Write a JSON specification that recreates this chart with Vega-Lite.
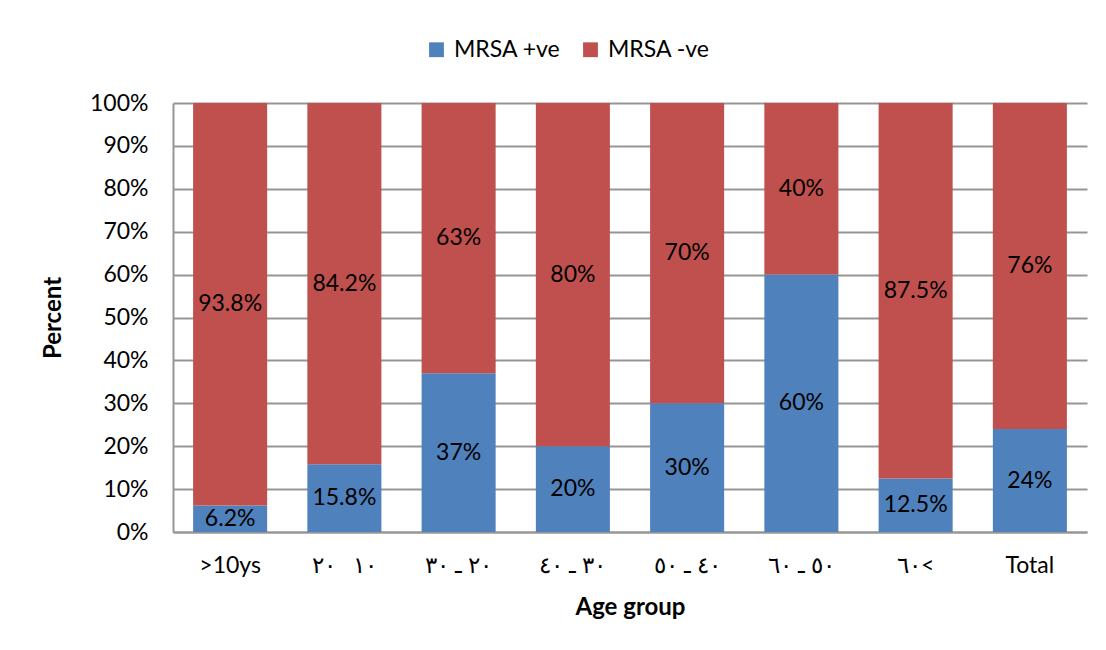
{
  "$schema": "https://vega.github.io/schema/vega-lite/v6.json",
  "width": 914,
  "height": 429,
  "autosize": {"type": "none"},
  "padding": {"left": 173, "top": 103, "right": 19, "bottom": 118},
  "background": "white",
  "config": {
    "view": {"stroke": null},
    "font": "Lato",
    "axis": {"labelFont": "Lato", "titleFont": "Lato"},
    "legend": {"labelFont": "Lato"}
  },
  "data": {
    "values": [
      {"group": ">10ys", "series": "MRSA +ve", "value": 0.062, "ord": 1},
      {"group": ">10ys", "series": "MRSA -ve", "value": 0.938, "ord": 2},
      {"group": "\u202d٢٠\u00a0\u00a0\u00a0١٠\u202c", "series": "MRSA +ve", "value": 0.158, "ord": 1},
      {"group": "\u202d٢٠\u00a0\u00a0\u00a0١٠\u202c", "series": "MRSA -ve", "value": 0.842, "ord": 2},
      {"group": "\u202d٣٠ ـ ٢٠\u202c", "series": "MRSA +ve", "value": 0.37, "ord": 1},
      {"group": "\u202d٣٠ ـ ٢٠\u202c", "series": "MRSA -ve", "value": 0.63, "ord": 2},
      {"group": "\u202d٤٠ ـ ٣٠\u202c", "series": "MRSA +ve", "value": 0.20, "ord": 1},
      {"group": "\u202d٤٠ ـ ٣٠\u202c", "series": "MRSA -ve", "value": 0.80, "ord": 2},
      {"group": "\u202d٥٠ ـ ٤٠\u202c", "series": "MRSA +ve", "value": 0.30, "ord": 1},
      {"group": "\u202d٥٠ ـ ٤٠\u202c", "series": "MRSA -ve", "value": 0.70, "ord": 2},
      {"group": "\u202d٦٠ ـ ٥٠\u202c", "series": "MRSA +ve", "value": 0.60, "ord": 1},
      {"group": "\u202d٦٠ ـ ٥٠\u202c", "series": "MRSA -ve", "value": 0.40, "ord": 2},
      {"group": "\u202d٦٠<\u202c", "series": "MRSA +ve", "value": 0.125, "ord": 1},
      {"group": "\u202d٦٠<\u202c", "series": "MRSA -ve", "value": 0.875, "ord": 2},
      {"group": "Total", "series": "MRSA +ve", "value": 0.24, "ord": 1},
      {"group": "Total", "series": "MRSA -ve", "value": 0.76, "ord": 2}
    ]
  },
  "transform": [
    {"stack": "value", "groupby": ["group"], "sort": [{"field": "ord", "order": "ascending"}], "as": ["v0", "v1"]},
    {"calculate": "(datum.v0 + datum.v1) / 2", "as": "mid"}
  ],
  "encoding": {
    "x": {
      "field": "group",
      "type": "nominal",
      "sort": null,
      "scale": {"paddingInner": 0.352, "paddingOuter": 0.176},
      "axis": {
        "title": "Age group",
        "labelAngle": 0,
        "labelFontSize": 23,
        "labelColor": "#000000",
        "labelPadding": 22,
        "ticks": false,
        "domainColor": "#969696",
        "domainWidth": 2,
        "titleFontSize": 24,
        "titleFontWeight": "bold",
        "titleColor": "#000000",
        "titlePadding": 18
      }
    }
  },
  "layer": [
    {
      "mark": {"type": "bar"},
      "encoding": {
        "y": {
          "field": "v0",
          "type": "quantitative",
          "scale": {"domain": [0, 1]},
          "axis": {
            "title": "Percent",
            "values": [0, 0.1, 0.2, 0.3, 0.4, 0.5, 0.6, 0.7, 0.8, 0.9, 1],
            "format": ".0%",
            "labelFontSize": 23,
            "labelColor": "#000000",
            "labelPadding": 25,
            "ticks": false,
            "grid": true,
            "gridColor": "#969696",
            "gridWidth": 2,
            "domainColor": "#969696",
            "domainWidth": 2,
            "titleFontSize": 24,
            "titleFontWeight": "bold",
            "titleColor": "#000000",
            "titlePadding": 24
          }
        },
        "y2": {"field": "v1"},
        "color": {
          "field": "series",
          "type": "nominal",
          "sort": ["MRSA +ve", "MRSA -ve"],
          "scale": {"domain": ["MRSA +ve", "MRSA -ve"], "range": ["#4F81BD", "#C0504D"]},
          "legend": {
            "title": null,
            "orient": "none",
            "direction": "horizontal",
            "legendX": 252,
            "legendY": -65,
            "symbolType": "square",
            "symbolSize": 220,
            "symbolStrokeWidth": 0,
            "labelFontSize": 23,
            "labelColor": "#000000",
            "columnPadding": 18,
            "labelOffset": 6
          }
        }
      }
    },
    {
      "mark": {"type": "text", "fontSize": 23, "color": "#000000", "baseline": "middle", "align": "center"},
      "encoding": {
        "y": {"field": "mid", "type": "quantitative"},
        "text": {"field": "value", "type": "quantitative", "format": ".1~%"}
      }
    }
  ]
}
